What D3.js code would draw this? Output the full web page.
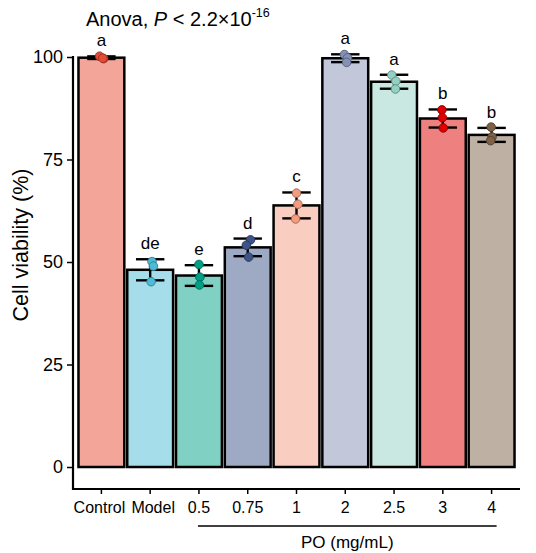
<!DOCTYPE html>
<html><head><meta charset="utf-8">
<script src="https://cdn.jsdelivr.net/npm/d3@7"></script>
<style>body{margin:0;background:#fff}svg{display:block;font-family:"Liberation Sans",Arial,sans-serif}</style>
</head><body><svg id="c" width="536" height="553"></svg>
<script>
const categories = ["Control","Model","0.5","0.75","1","2","2.5","3","4"];
const replicates = [
  [100.2, 99.6, 99.7],
  [50.1, 49.0, 45.2],
  [49.4, 46.3, 44.4],
  [55.4, 54.1, 51.2],
  [66.8, 64.1, 60.5],
  [100.6, 99.8, 98.7],
  [95.6, 94.1, 92.2],
  [87.1, 85.2, 82.7],
  [82.9, 80.5, 79.6]
];
const letters = ["a","de","e","d","c","a","a","b","b"];
const jitter = [[-0.04,0.05,0.03],[0.04,0.07,0.02],[0.0,0.02,0.01],[0.06,-0.03,0.02],[0.0,0.03,-0.02],[-0.02,0.05,0.03],[-0.05,0.04,0.03],[-0.02,-0.01,0.01],[-0.01,0.01,-0.02]];
const pointColors = ["#E64B35","#4DBBD5","#00A087","#3C5488","#F39B7F","#8491B4","#91D1C2","#DC0000","#7E6148"];
const yTicks = [0,25,50,75,100];
const groupLabel = "PO (mg/mL)";

const svg = d3.select("#c");
const x = d3.scaleBand().domain(categories).range([77.5,515.5]).paddingInner(0.06).paddingOuter(0.02);
const y = d3.scaleLinear().domain([0,100]).range([467,57]);
const mean = a => d3.mean(a), sd = a => d3.deviation(a);
const data = categories.map((c,i)=>({c,i,vals:replicates[i],m:mean(replicates[i]),s:sd(replicates[i])}));
const cxOf = c => x(c)+x.bandwidth()/2;

// bars
svg.selectAll("rect.bar").data(data).join("rect")
  .attr("x",d=>x(d.c)).attr("width",x.bandwidth())
  .attr("y",d=>y(d.m)).attr("height",d=>y(0)-y(d.m))
  .attr("fill",d=>d3.interpolateRgb(pointColors[d.i],"#fff")(0.5))
  .attr("stroke","#000").attr("stroke-width",2.5);

// error bars
const capW = x.bandwidth()*0.62;
const eb = svg.append("g").attr("stroke","#000").attr("stroke-width",2.4);
data.forEach(d=>{
  const cx = cxOf(d.c);
  eb.append("line").attr("x1",cx).attr("x2",cx).attr("y1",y(d.m+d.s)).attr("y2",y(d.m-d.s));
  eb.append("line").attr("x1",cx-capW/2).attr("x2",cx+capW/2).attr("y1",y(d.m+d.s)).attr("y2",y(d.m+d.s));
  eb.append("line").attr("x1",cx-capW/2).attr("x2",cx+capW/2).attr("y1",y(d.m-d.s)).attr("y2",y(d.m-d.s));
});

// points
data.forEach(d=>{
  const cx = cxOf(d.c);
  d.vals.forEach((v,k)=>{
    svg.append("circle").attr("cx",cx+jitter[d.i][k]*x.bandwidth()).attr("cy",y(v)).attr("r",4.3)
      .attr("fill",pointColors[d.i]).attr("stroke",d3.color(pointColors[d.i]).darker(1.2)).attr("stroke-width",0.9);
  });
});

// letters
svg.selectAll("text.let").data(data).join("text")
  .attr("x",d=>cxOf(d.c)).attr("y",d=>y(d.m+d.s)-10)
  .attr("text-anchor","middle").attr("font-size",17).text(d=>letters[d.i]);

// y axis
const ya = svg.append("g").attr("transform","translate(73,0)")
  .call(d3.axisLeft(y).tickValues(yTicks).tickSize(6).tickPadding(4));
ya.select(".domain").remove();
ya.selectAll("line").attr("stroke","#000").attr("stroke-width",1.5);
ya.selectAll("text").attr("font-size",18).attr("font-family","Liberation Sans, Arial").attr("fill","#000");
svg.append("path").attr("d","M73,56V489H520").attr("fill","none").attr("stroke","#000").attr("stroke-width",2.2);

// x axis
const xa = svg.append("g").attr("transform","translate(0,489)")
  .call(d3.axisBottom(x).tickSize(5).tickPadding(8));
xa.select(".domain").remove();
xa.selectAll("line").attr("stroke","#000").attr("stroke-width",1.5);
xa.selectAll("text").attr("font-size",16).attr("font-family","Liberation Sans, Arial").attr("fill","#000").attr("dy","0.71em")
  .attr("dx",d=>d==="Control"?-2:(d==="Model"?3:0));

// group bracket
svg.append("line").attr("x1",cxOf("0.5")-1).attr("x2",cxOf("4")+5).attr("y1",526).attr("y2",526).attr("stroke","#000").attr("stroke-width",1.5);
svg.append("text").attr("x",cxOf("2")+2).attr("y",548).attr("text-anchor","middle").attr("font-size",17).text(groupLabel);

// y title
svg.append("text").attr("transform","translate(28,245) rotate(-90)").attr("text-anchor","middle").attr("font-size",21.5).text("Cell viability (%)");

// anova title
const t = svg.append("text").attr("x",86).attr("y",26).attr("font-size",20);
t.append("tspan").text("Anova, ");
t.append("tspan").attr("font-style","italic").text("P");
t.append("tspan").text(" < 2.2×10");
t.append("tspan").attr("font-size",12.5).attr("dy",-9).text("-16");
</script></body></html>
